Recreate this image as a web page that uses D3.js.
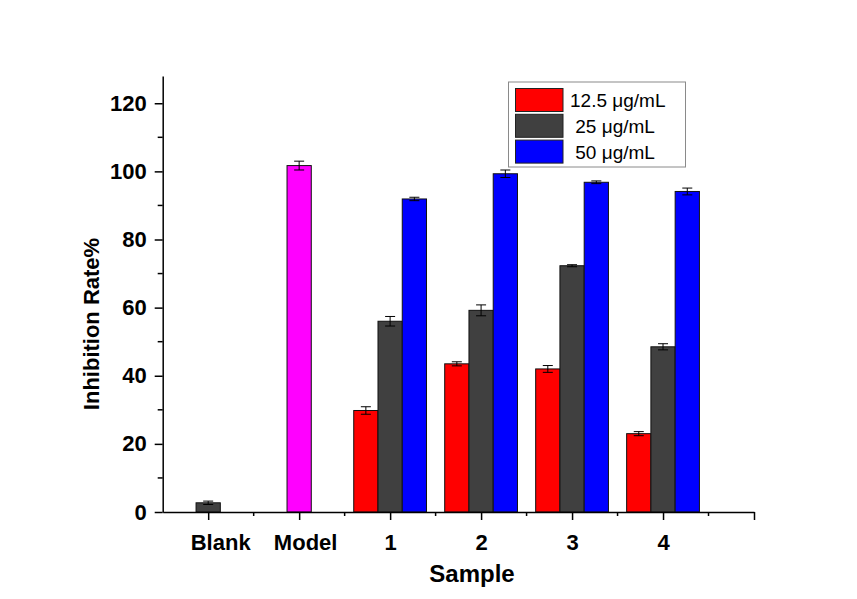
<!DOCTYPE html>
<html>
<head>
<meta charset="utf-8">
<script src="https://cdn.jsdelivr.net/npm/d3@7"></script>
<style>
  body { margin: 0; background: #fff; }
  text { font-family: Arial, "Liberation Sans", sans-serif; }
</style>
</head>
<body>
<div id="chart"></div>
<script>
var svgWidth = 857;
var svgHeight = 599;

// data
var categories = ["Blank", "Model", "1", "2", "3", "4"];
var seriesNames = ["12.5 μg/mL", " 25 μg/mL", " 50 μg/mL"];
var seriesColors = ["#ff0000", "#404040", "#0000ff"];

var blankValue = 2.7, blankErr = 0.5;
var modelValue = 101.7, modelErr = 1.3;

var conc125 = [29.8, 43.5, 42.0, 23.0];
var conc125Err = [1.1, 0.6, 1.0, 0.6];
var conc25 = [56.0, 59.2, 72.3, 48.5];
var conc25Err = [1.4, 1.6, 0.3, 0.9];
var conc50 = [91.9, 99.3, 96.8, 94.1];
var conc50Err = [0.5, 1.1, 0.4, 1.0];

var yMajorTicks = [0, 20, 40, 60, 80, 100, 120];

var svg = d3.select("#chart")
    .append("svg")
    .attr("width", svgWidth)
    .attr("height", svgHeight);

var x = d3.scaleLinear().domain([0.5, 7]).range([162.7, 754]);
var y = d3.scaleLinear().domain([0, 128]).range([512, 76]);

var barW = (x(2) - x(1)) * 0.8 / 3;

// build bar list
var bars = [];
bars.push({ cx: 1, v: blankValue, e: blankErr, color: "#404040" });
bars.push({ cx: 2, v: modelValue, e: modelErr, color: "#ff00ff" });
var groups = [conc125, conc25, conc50];
var groupErrs = [conc125Err, conc25Err, conc50Err];
groups.forEach(function (vals, s) {
    vals.forEach(function (v, i) {
        bars.push({ cx: 3 + i, offset: s - 1, v: v, e: groupErrs[s][i], color: seriesColors[s] });
    });
});

function barX(d) {
    return x(d.cx) + (d.offset || 0) * barW - barW / 2;
}

// error bars (drawn under bars so lower cap hides like the original where dark)
var errG = svg.append("g");
var barG = svg.append("g");

barG.selectAll("rect")
    .data(bars)
    .enter()
    .append("rect")
    .attr("x", barX)
    .attr("y", d => y(d.v))
    .attr("width", barW)
    .attr("height", d => y(0) - y(d.v))
    .attr("fill", d => d.color)
    .attr("stroke", "#111")
    .attr("stroke-width", 1);

var eb = svg.append("g").selectAll("g")
    .data(bars)
    .enter()
    .append("g")
    .attr("stroke", "#000")
    .attr("stroke-width", 1);

eb.append("line")
    .attr("x1", d => barX(d) + barW / 2)
    .attr("x2", d => barX(d) + barW / 2)
    .attr("y1", d => y(d.v + d.e))
    .attr("y2", d => y(d.v - d.e));
eb.append("line")
    .attr("x1", d => barX(d) + barW / 2 - 5)
    .attr("x2", d => barX(d) + barW / 2 + 5)
    .attr("y1", d => y(d.v + d.e))
    .attr("y2", d => y(d.v + d.e));
eb.append("line")
    .attr("x1", d => barX(d) + barW / 2 - 5)
    .attr("x2", d => barX(d) + barW / 2 + 5)
    .attr("y1", d => y(d.v - d.e))
    .attr("y2", d => y(d.v - d.e));

// y axis
var yMinor = d3.range(10, 128, 20);
var leftAxis = d3.axisLeft(y).tickValues(yMajorTicks).tickSize(8).tickSizeOuter(0).tickPadding(8);
var yAxisG = svg.append("g")
    .attr("transform", `translate(${x(0.5)},0)`)
    .call(leftAxis);
yAxisG.select(".domain").attr("stroke-width", 1.5);
yAxisG.selectAll(".tick line").attr("stroke-width", 1.5);
yAxisG.selectAll(".tick text")
    .attr("font-size", "22px")
    .attr("font-weight", "bold")
    .attr("fill", "#000")
    .style("font-family", "Arial, 'Liberation Sans', sans-serif");
svg.append("g").selectAll("line")
    .data(yMinor)
    .enter()
    .append("line")
    .attr("x1", x(0.5) - 5)
    .attr("x2", x(0.5))
    .attr("y1", d => y(d))
    .attr("y2", d => y(d))
    .attr("stroke", "#000")
    .attr("stroke-width", 1.5);

// x axis
var labelShift = [12, 6, 0, 0, 0, 0];
var bottomAxis = d3.axisBottom(x)
    .tickValues([1, 2, 3, 4, 5, 6, 7])
    .tickFormat(d => categories[d - 1] || "")
    .tickSize(8)
    .tickSizeOuter(0)
    .tickPadding(14);
var xAxisG = svg.append("g")
    .attr("transform", `translate(0,${y(0)})`)
    .call(bottomAxis);
xAxisG.select(".domain").attr("stroke-width", 1.5);
xAxisG.selectAll(".tick line").attr("stroke-width", 1.5);
xAxisG.selectAll(".tick text")
    .attr("font-size", "22px")
    .attr("font-weight", "bold")
    .attr("fill", "#000")
    .attr("dx", (d, i) => labelShift[i] || 0)
    .style("font-family", "Arial, 'Liberation Sans', sans-serif");
svg.append("g").selectAll("line")
    .data(d3.range(1.5, 7, 1))
    .enter()
    .append("line")
    .attr("x1", d => x(d))
    .attr("x2", d => x(d))
    .attr("y1", y(0))
    .attr("y2", y(0) + 4)
    .attr("stroke", "#000")
    .attr("stroke-width", 1.5);

// axis titles
svg.append("text")
    .attr("x", 472)
    .attr("y", 582)
    .attr("text-anchor", "middle")
    .attr("font-size", "24px")
    .attr("font-weight", "bold")
    .text("Sample");

svg.append("text")
    .attr("transform", "translate(99,324) rotate(-90)")
    .attr("text-anchor", "middle")
    .attr("font-size", "22px")
    .attr("font-weight", "bold")
    .text("Inhibition Rate%");

// legend
var legend = svg.append("g");
legend.append("rect")
    .attr("x", 508.5)
    .attr("y", 82)
    .attr("width", 177)
    .attr("height", 85)
    .attr("fill", "#fff")
    .attr("stroke", "#8a8a8a")
    .attr("stroke-width", 1);
var rows = legend.selectAll("g.row")
    .data(seriesNames)
    .enter()
    .append("g")
    .attr("class", "row")
    .attr("transform", (d, i) => `translate(0,${88.5 + i * 25.8})`);
rows.append("rect")
    .attr("x", 515.5)
    .attr("y", 0)
    .attr("width", 47.5)
    .attr("height", 23)
    .attr("fill", (d, i) => seriesColors[i])
    .attr("stroke", "#222")
    .attr("stroke-width", 1);
rows.append("text")
    .attr("x", 570)
    .attr("y", 18.5)
    .attr("font-size", "19px")
    .attr("fill", "#000")
    .attr("xml:space", "preserve")
    .style("white-space", "pre")
    .text(d => d);
</script>
</body>
</html>
